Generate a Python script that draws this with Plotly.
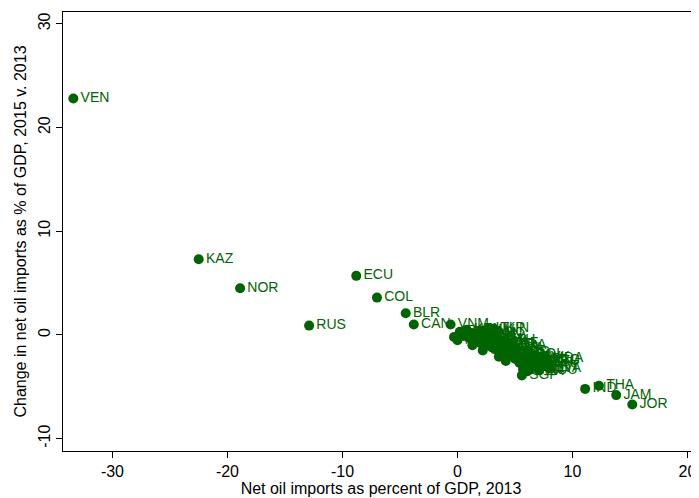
import plotly.graph_objects as go

countries = ["VEN", "KAZ", "NOR", "RUS", "ECU", "COL", "BLR", "CAN", "VNM", "UKR",
             "THA", "IND", "JAM", "JOR", "MDA", "SGP",
             "TUR", "PAK", "PHL", "KEN", "TZA", "SEN", "GHA", "DOM", "HND", "NIC",
             "SLV", "GTM", "CRI", "PAN", "URY", "MAR", "TUN", "LKA", "BGD", "NPL",
             "ETH", "UGA", "MOZ", "ZAF", "CHL", "PER", "BRA", "ARG", "ESP", "ITA",
             "FRA", "DEU", "JPN", "KOR", "CHN", "POL", "HUN", "CZE", "SVK", "BGR",
             "ROU", "GRC", "PRT", "LTU", "LVA", "EST", "HRV", "SRB", "ALB", "MKD",
             "GEO", "ARM", "LBN", "SUR"]

net_imports_2013 = [-33.4, -22.5, -18.9, -12.9, -8.8, -7.0, -4.5, -3.8, -0.6, 2.7,
                    12.3, 11.1, 13.8, 15.2, 7.6, 5.6,
                    -0.3, 0.2, 0.5, 0.8, 1.0, 1.2, 1.5, 1.6, 1.8, 2.0,
                    2.1, 2.3, 2.5, 2.6, 2.8, 3.0, 3.1, 3.2, 3.4, 3.5,
                    3.7, 3.9, 4.0, 4.1, 4.3, 4.5, 4.6, 4.8, 5.0, 5.1,
                    5.3, 5.4, 5.7, 5.8, 6.0, 6.2, 6.3, 6.5, 6.7, 6.9,
                    7.1, 7.3, 7.5, 7.8, 8.0, 4.2, 3.6, 2.2, 1.3, 0.0,
                    0.6, 1.9, 4.4, 6.1]

change_2015_v_2013 = [22.8, 7.3, 4.5, 0.9, 5.7, 3.6, 2.1, 1.0, 1.0, 0.6,
                      -4.9, -5.2, -5.8, -6.7, -2.3, -3.9,
                      -0.2, 0.3, -0.1, 0.5, -0.3, 0.2, -0.5, 0.1, -0.2, -0.8,
                      0.4, -0.4, -1.0, 0.0, -0.6, -1.2, 0.6, -0.3, -0.9, -1.5,
                      -0.5, -1.1, -1.8, -0.8, -1.4, -2.0, -1.0, -1.7, -2.3, -1.3,
                      -2.0, -2.7, -3.3, -2.4, -2.9, -1.9, -2.6, -3.1, -2.2, -2.8,
                      -3.4, -2.5, -3.0, -2.6, -3.2, -2.5, -2.1, -1.5, -1.0, -0.5,
                      0.2, -0.7, -1.6, -3.5]

x_ticks = [-30, -20, -10, 0, 10, 20]
x_tick_labels = ["-30", "-20", "-10", "0", "10", "20"]
y_ticks = [-10, 0, 10, 20, 30]
y_tick_labels = ["-10", "0", "10", "20", "30"]

green = "#006400"
font_family = "Liberation Sans, Arial, sans-serif"

fig = go.Figure()
fig.add_trace(go.Scatter(
    x=net_imports_2013, y=change_2015_v_2013, text=countries,
    mode="markers+text", textposition="middle right",
    marker=dict(color=green, size=10, line=dict(width=0)),
    textfont=dict(color=green, size=14, family=font_family),
    showlegend=False, cliponaxis=False,
))

# the page body has an 8px default margin, so the figure is sized to compensate
fig.update_layout(
    width=691, height=490,
    margin=dict(l=55, r=0, t=4, b=47, autoexpand=False),
    paper_bgcolor="white", plot_bgcolor="white",
    font=dict(family=font_family, color="black"),
    xaxis=dict(
        range=[-34.3, 21.0], tickvals=x_ticks, ticktext=x_tick_labels,
        ticks="outside", ticklen=6, automargin=False,
        tickcolor="black", showline=True, linecolor="black", linewidth=1,
        mirror=True, showgrid=False, zeroline=False,
        tickfont=dict(size=16),
        title=dict(text="Net oil imports as percent of GDP, 2013",
                   font=dict(size=16), standoff=2),
    ),
    yaxis=dict(
        range=[-11.19, 31.14], tickvals=y_ticks, ticktext=y_tick_labels,
        ticks="outside", ticklen=6, automargin=False,
        tickcolor="black", showline=True, linecolor="black", linewidth=1,
        showgrid=False, zeroline=False, tickangle=-90,
        tickfont=dict(size=16),
        title=dict(text="Change in net oil imports as % of GDP, 2015 v. 2013",
                   font=dict(size=16), standoff=4),
    ),
)

fig.write_html("out.html")
